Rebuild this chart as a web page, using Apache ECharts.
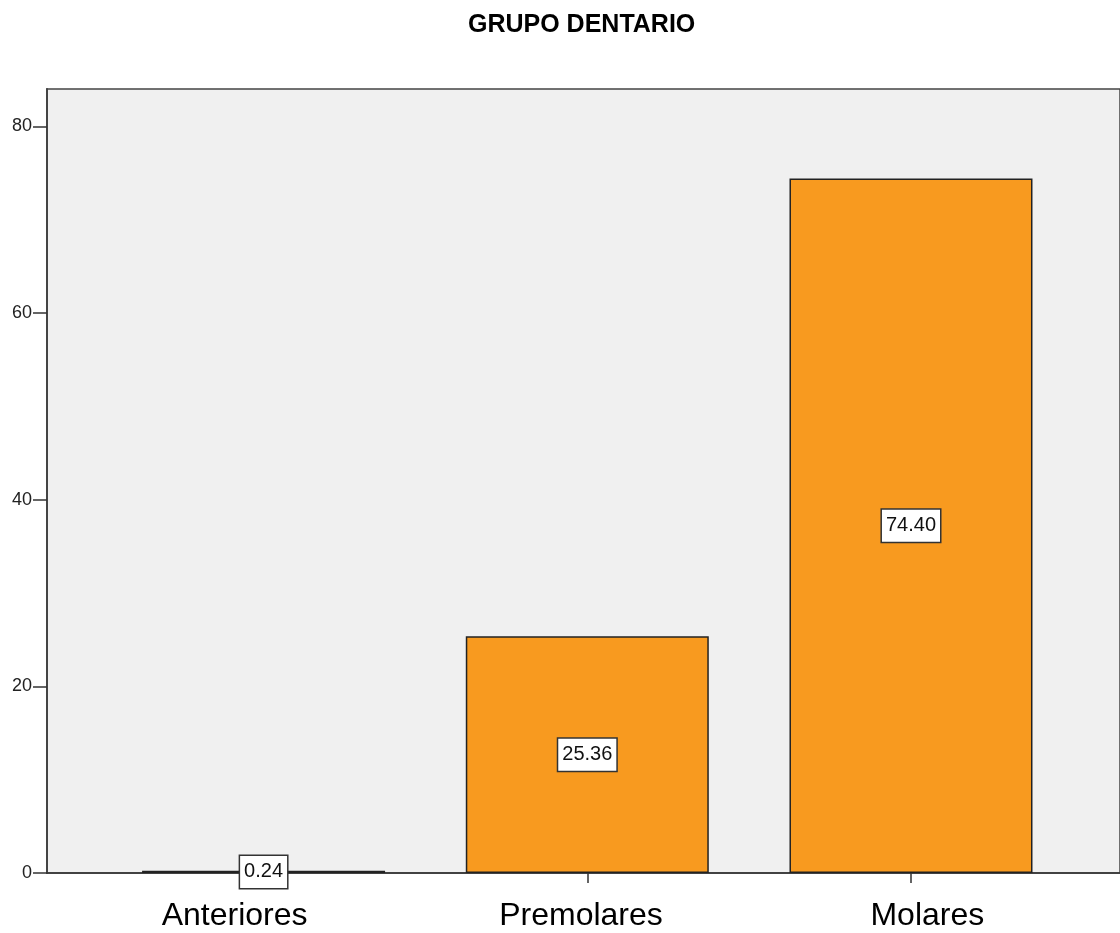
<!DOCTYPE html>
<html>
<head>
<meta charset="utf-8">
<script src="https://cdn.jsdelivr.net/npm/echarts@6/dist/echarts.min.js"></script>
<style>
  html, body { margin: 0; padding: 0; background: #ffffff; }
  #chart { width: 1120px; height: 933px; }
</style>
</head>
<body>
<div id="chart"></div>
<script>
// ---- data ----
const title = 'GRUPO DENTARIO';
const categories = ['Anteriores', 'Premolares', 'Molares'];
const values = [0.24, 25.36, 74.40];
const yTicks = [0, 20, 40, 60, 80];
const yMax = 84;

const positions = categories.map((c, i) => i);
const font = '"Liberation Sans", Arial, Helvetica, sans-serif';

const chart = echarts.init(document.getElementById('chart'), null, { renderer: 'canvas' });

chart.setOption({
  backgroundColor: '#ffffff',
  animation: false,
  title: {
    text: title,
    left: 463,
    top: 8,
    textStyle: { fontFamily: font, fontWeight: 'bold', fontSize: 25, color: '#000' }
  },
  grid: {
    left: 47,
    right: -2,
    top: 89,
    bottom: 60,
    show: true,
    backgroundColor: '#f0f0f0',
    borderColor: '#444',
    borderWidth: 1.5,
    containLabel: false
  },
  xAxis: [
    {
      type: 'value',
      min: -0.6691,
      max: 2.6457,
      position: 'bottom',
      axisLine: { show: true, onZero: false, lineStyle: { color: '#333', width: 1.5 } },
      axisTick: { show: true, length: 10, customValues: positions, lineStyle: { color: '#333', width: 1.5 } },
      axisLabel: { show: false },
      splitLine: { show: false }
    },
    {
      type: 'value',
      min: -0.5418,
      max: 2.5562,
      position: 'bottom',
      offset: 0,
      axisLine: { show: false, onZero: false },
      axisTick: { show: false },
      splitLine: { show: false },
      axisLabel: {
        show: true,
        customValues: positions,
        margin: 27,
        fontFamily: font,
        fontSize: 32,
        color: '#000',
        formatter: v => categories[Math.round(v)] || ''
      }
    }
  ],
  yAxis: {
    type: 'value',
    min: 0,
    max: yMax,
    interval: 20,
    position: 'left',
    axisLine: { show: true, onZero: false, lineStyle: { color: '#444', width: 2 } },
    axisTick: { show: true, inside: false, length: 14, customValues: yTicks, lineStyle: { color: '#333', width: 1.5 } },
    axisLabel: {
      show: true,
      customValues: yTicks,
      margin: 15,
      fontFamily: font,
      fontSize: 18,
      color: '#222'
    },
    splitLine: { show: false }
  },
  series: [{
    type: 'bar',
    xAxisIndex: 0,
    data: values.map((v, i) => [positions[i], v]),
    barWidth: 243,
    itemStyle: { color: '#f89a1f', borderColor: '#222', borderWidth: 1.5 },
    label: {
      show: true,
      position: 'inside',
      formatter: p => p.value[1].toFixed(2),
      fontFamily: font,
      fontSize: 20,
      lineHeight: 20,
      color: '#111',
      backgroundColor: '#ffffff',
      borderColor: '#333',
      borderWidth: 1.5,
      padding: [6, 4, 6, 4]
    },
    clip: false
  }]
});
</script>
</body>
</html>
